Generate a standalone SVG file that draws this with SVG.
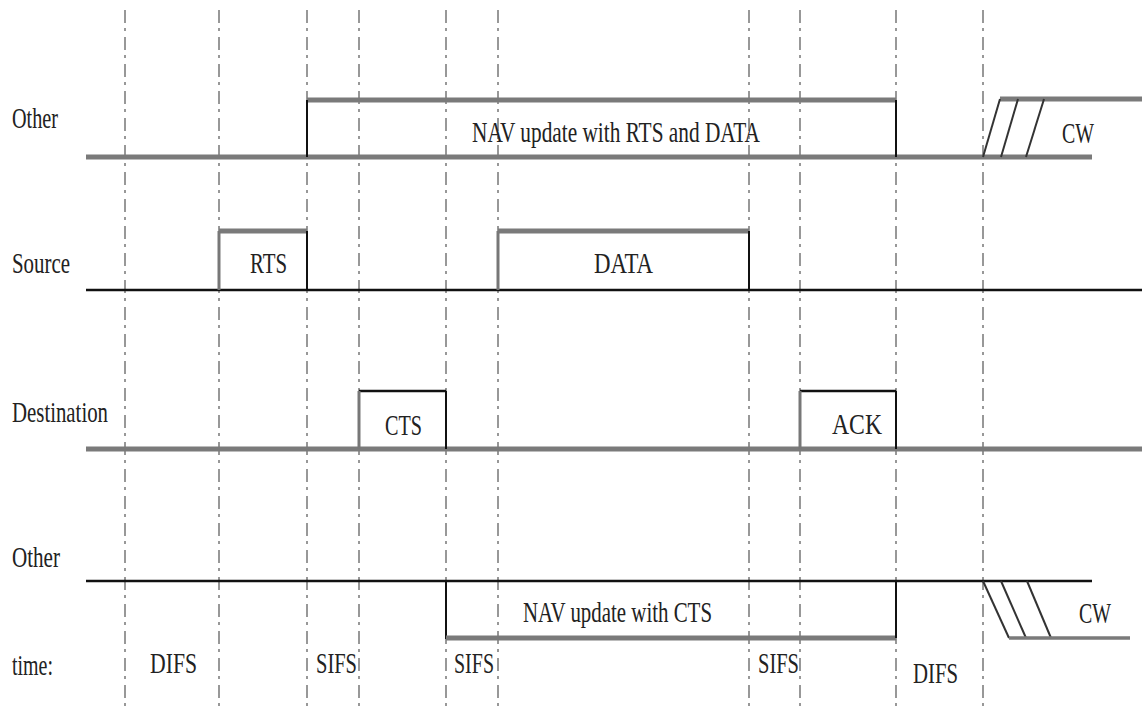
<svg xmlns="http://www.w3.org/2000/svg" width="1142" height="706" viewBox="0 0 1142 706">
<style>
text{font-family:"Liberation Serif","Times New Roman",serif;font-size:30px;fill:#222}
.guide{stroke:#777;stroke-width:1.5;stroke-dasharray:13 5 3 6;fill:none}
.thick{stroke:#7a7a7a;stroke-width:5;fill:none}
.blk{stroke:#111;stroke-width:2.5;fill:none}
.thin{stroke:#111;stroke-width:2;fill:none}
.gv{stroke:#777;stroke-width:3;fill:none}
.cw{stroke:#333;stroke-width:2;fill:none}
</style>
<rect width="1142" height="706" fill="#fff"/>
<g id="connectors">
<line class="guide" x1="125" y1="10" x2="125" y2="706"/>
<line class="guide" x1="219" y1="10" x2="219" y2="706"/>
<line class="guide" x1="307" y1="10" x2="307" y2="706"/>
<line class="guide" x1="359" y1="10" x2="359" y2="706"/>
<line class="guide" x1="446" y1="10" x2="446" y2="706"/>
<line class="guide" x1="498" y1="10" x2="498" y2="706"/>
<line class="guide" x1="749" y1="10" x2="749" y2="706"/>
<line class="guide" x1="800" y1="10" x2="800" y2="706"/>
<line class="guide" x1="896" y1="10" x2="896" y2="706"/>
<line class="guide" x1="983" y1="10" x2="983" y2="706"/>
</g>
<g id="other-top">
<text x="12" y="128" textLength="46" lengthAdjust="spacingAndGlyphs" font-size="28">Other</text>
<line class="thick" x1="86" y1="157" x2="1092" y2="157"/>
<line class="thick" x1="307" y1="100" x2="896" y2="100"/>
<line class="thin" x1="307" y1="100" x2="307" y2="157"/>
<line class="thin" x1="896" y1="100" x2="896" y2="157"/>
<text x="472" y="142" textLength="288" lengthAdjust="spacingAndGlyphs" font-size="33">NAV update with RTS and DATA</text>
</g>
<g id="cw-top">
<line class="thick" x1="1000" y1="99" x2="1142" y2="99"/>
<line class="cw" x1="983" y1="157" x2="1000" y2="99"/>
<line class="cw" x1="1001" y1="157" x2="1018" y2="99"/>
<line class="cw" x1="1026" y1="157" x2="1044" y2="99"/>
<text x="1062" y="143" textLength="32" lengthAdjust="spacingAndGlyphs" font-size="32">CW</text>
</g>
<g id="source">
<text x="12" y="273" textLength="58" lengthAdjust="spacingAndGlyphs">Source</text>
<line class="blk" x1="86" y1="290" x2="1142" y2="290"/>
</g>
<g id="rts">
<line class="thick" x1="219" y1="231" x2="307" y2="231"/>
<line class="gv" x1="219" y1="231" x2="219" y2="290"/>
<line class="thin" x1="307" y1="231" x2="307" y2="290"/>
<text x="250" y="273" textLength="37" lengthAdjust="spacingAndGlyphs">RTS</text>
</g>
<g id="data">
<line class="thick" x1="498" y1="231" x2="749" y2="231"/>
<line class="gv" x1="498" y1="231" x2="498" y2="290"/>
<line class="thin" x1="749" y1="231" x2="749" y2="290"/>
<text x="594" y="273" textLength="59" lengthAdjust="spacingAndGlyphs">DATA</text>
</g>
<g id="destination">
<text x="12" y="422" textLength="96" lengthAdjust="spacingAndGlyphs">Destination</text>
<line class="thick" x1="86" y1="449" x2="1142" y2="449"/>
</g>
<g id="cts">
<line class="blk" x1="359" y1="391" x2="446" y2="391"/>
<line class="gv" x1="359" y1="391" x2="359" y2="449"/>
<line class="thin" x1="446" y1="391" x2="446" y2="449"/>
<text x="385" y="435" textLength="37" lengthAdjust="spacingAndGlyphs">CTS</text>
</g>
<g id="ack">
<line class="blk" x1="800" y1="391" x2="896" y2="391"/>
<line class="gv" x1="800" y1="391" x2="800" y2="449"/>
<line class="thin" x1="896" y1="391" x2="896" y2="449"/>
<text x="832" y="434" textLength="50" lengthAdjust="spacingAndGlyphs" font-size="37">ACK</text>
</g>
<g id="other-bottom">
<text x="12" y="567" textLength="48" lengthAdjust="spacingAndGlyphs">Other</text>
<line class="blk" x1="86" y1="581" x2="1092" y2="581"/>
<line class="thin" x1="446" y1="581" x2="446" y2="639"/>
<line class="thick" x1="446" y1="638" x2="896" y2="638"/>
<line class="thin" x1="896" y1="581" x2="896" y2="638"/>
<text x="523" y="622" textLength="189" lengthAdjust="spacingAndGlyphs" font-size="33">NAV update with CTS</text>
</g>
<g id="cw-bottom">
<line class="cw" x1="983" y1="581" x2="1009" y2="638"/>
<line class="cw" x1="1001" y1="581" x2="1026" y2="638"/>
<line class="cw" x1="1027" y1="581" x2="1051" y2="638"/>
<line class="thick" x1="1009" y1="638" x2="1130" y2="638" style="stroke-width:3.5"/>
<text x="1079" y="623" textLength="32" lengthAdjust="spacingAndGlyphs" font-size="32">CW</text>
</g>
<g id="time">
<text x="12" y="675" textLength="41" lengthAdjust="spacingAndGlyphs">time:</text>
<text x="150" y="673" textLength="47" lengthAdjust="spacingAndGlyphs" font-size="33">DIFS</text>
<text x="316" y="673" textLength="41" lengthAdjust="spacingAndGlyphs" font-size="31">SIFS</text>
<text x="454" y="673" textLength="40" lengthAdjust="spacingAndGlyphs" font-size="31">SIFS</text>
<text x="758" y="673" textLength="41" lengthAdjust="spacingAndGlyphs" font-size="31">SIFS</text>
<text x="913" y="683" textLength="45" lengthAdjust="spacingAndGlyphs" font-size="33">DIFS</text>
</g>
</svg>
